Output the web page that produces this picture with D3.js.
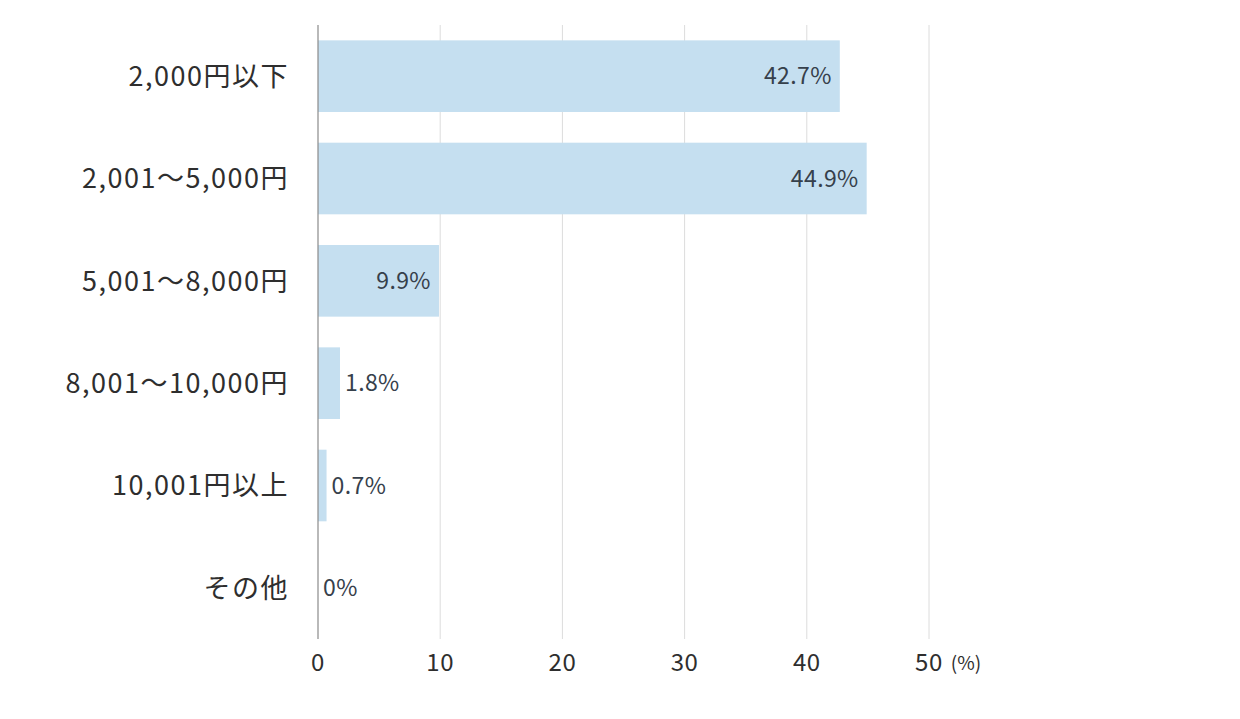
<!DOCTYPE html>
<html>
<head>
<meta charset="utf-8">
<script src="https://cdn.jsdelivr.net/npm/d3@7"></script>
<style>
  body { margin: 0; background: #fff; }
  svg { display: block; }
  text { font-family: "Noto Sans CJK JP", "Noto Sans", sans-serif; }
</style>
</head>
<body>
<div id="chart"></div>
<script>
const categories = ["2,000円以下", "2,001～5,000円", "5,001～8,000円", "8,001～10,000円", "10,001円以上", "その他"];
const values = [42.7, 44.9, 9.9, 1.8, 0.7, 0];
const valueLabels = ["42.7%", "44.9%", "9.9%", "1.8%", "0.7%", "0%"];
const ticks = [0, 10, 20, 30, 40, 50];

const width = 1240, height = 719;
const plotLeft = 318, plotRight = 929, plotTop = 25, plotBottom = 639;

const svg = d3.select("#chart").append("svg")
  .attr("width", width)
  .attr("height", height);

const x = d3.scaleLinear().domain([0, 50]).range([plotLeft, plotRight]);
const y = d3.scaleBand().domain(categories).range([plotTop, plotBottom]).paddingInner(0.3).paddingOuter(0.15);

// grid lines
svg.append("g").selectAll("line")
  .data(ticks.slice(1))
  .enter().append("line")
  .attr("x1", d => x(d)).attr("x2", d => x(d))
  .attr("y1", plotTop).attr("y2", plotBottom)
  .attr("stroke", "#dcdcdc")
  .attr("stroke-width", 1);

// bars
svg.append("g").selectAll("rect")
  .data(values)
  .enter().append("rect")
  .attr("x", x(0))
  .attr("y", (d, i) => y(categories[i]))
  .attr("width", d => x(d) - x(0))
  .attr("height", y.bandwidth())
  .attr("fill", "#c5dff0");

// zero line
svg.append("line")
  .attr("x1", x(0)).attr("x2", x(0))
  .attr("y1", plotTop).attr("y2", plotBottom)
  .attr("stroke", "#8a8a8a")
  .attr("stroke-width", 1.2);

// value labels: inside for large bars, outside for small ones
svg.append("g").selectAll("text")
  .data(values)
  .enter().append("text")
  .attr("x", d => d > 5 ? x(d) - 8 : x(d) + 5)
  .attr("y", (d, i) => y(categories[i]) + y.bandwidth() / 2)
  .attr("dy", "0.35em")
  .attr("text-anchor", d => d > 5 ? "end" : "start")
  .attr("font-size", 23)
  .attr("letter-spacing", 0.4)
  .attr("fill", "#36404b")
  .text((d, i) => valueLabels[i]);

// category labels
svg.append("g").selectAll("text")
  .data(categories)
  .enter().append("text")
  .attr("x", 289)
  .attr("y", d => y(d) + y.bandwidth() / 2)
  .attr("dy", "0.36em")
  .attr("text-anchor", "end")
  .attr("font-size", 27)
  .attr("letter-spacing", 1.5)
  .attr("fill", "#2e2e2e")
  .text(d => d);

// x tick labels
svg.append("g").selectAll("text")
  .data(ticks)
  .enter().append("text")
  .attr("x", d => x(d))
  .attr("y", 663)
  .attr("dy", "0.35em")
  .attr("text-anchor", "middle")
  .attr("font-size", 24)
  .attr("letter-spacing", 0.6)
  .attr("fill", "#2e2e2e")
  .text(d => d);

svg.append("text")
  .attr("x", x(50) + 37)
  .attr("y", 663)
  .attr("dy", "0.35em")
  .attr("text-anchor", "middle")
  .attr("font-size", 19)
  .attr("fill", "#2e2e2e")
  .text("(%)");
</script>
</body>
</html>
